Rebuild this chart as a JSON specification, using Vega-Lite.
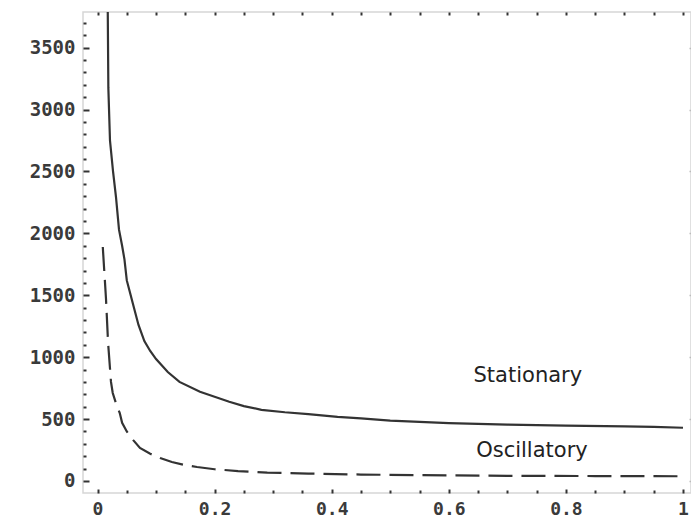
{
  "$schema": "https://vega.github.io/schema/vega-lite/v6.json",
  "width": 608,
  "height": 481,
  "autosize": {"type": "none"},
  "padding": {"left": 83, "top": 12, "right": 0, "bottom": 27},
  "background": "white",
  "config": {
    "view": {"stroke": "#d6d6d6", "strokeWidth": 1.5},
    "axis": {
      "domain": false,
      "grid": false,
      "labelFont": "DejaVu Sans Mono",
      "labelFontSize": 19,
      "labelFontWeight": "bold",
      "labelColor": "#3a3a3a",
      "tickColor": "#333333",
      "tickWidth": 2,
      "labelOverlap": false,
      "labelFlush": false
    }
  },
  "datasets": {
    "curves": [
      {"x": 0.0165, "y": 4100, "series": "Stationary"},
      {"x": 0.0175, "y": 3790, "series": "Stationary"},
      {"x": 0.0185, "y": 3175, "series": "Stationary"},
      {"x": 0.0213, "y": 2750, "series": "Stationary"},
      {"x": 0.0265, "y": 2500, "series": "Stationary"},
      {"x": 0.0316, "y": 2290, "series": "Stationary"},
      {"x": 0.0367, "y": 2030, "series": "Stationary"},
      {"x": 0.042, "y": 1900, "series": "Stationary"},
      {"x": 0.046, "y": 1790, "series": "Stationary"},
      {"x": 0.050, "y": 1620, "series": "Stationary"},
      {"x": 0.055, "y": 1530, "series": "Stationary"},
      {"x": 0.060, "y": 1440, "series": "Stationary"},
      {"x": 0.070, "y": 1260, "series": "Stationary"},
      {"x": 0.080, "y": 1130, "series": "Stationary"},
      {"x": 0.090, "y": 1050, "series": "Stationary"},
      {"x": 0.100, "y": 985, "series": "Stationary"},
      {"x": 0.120, "y": 880, "series": "Stationary"},
      {"x": 0.140, "y": 800, "series": "Stationary"},
      {"x": 0.175, "y": 720, "series": "Stationary"},
      {"x": 0.200, "y": 680, "series": "Stationary"},
      {"x": 0.225, "y": 640, "series": "Stationary"},
      {"x": 0.250, "y": 605, "series": "Stationary"},
      {"x": 0.280, "y": 575, "series": "Stationary"},
      {"x": 0.320, "y": 555, "series": "Stationary"},
      {"x": 0.360, "y": 540, "series": "Stationary"},
      {"x": 0.410, "y": 518, "series": "Stationary"},
      {"x": 0.450, "y": 505, "series": "Stationary"},
      {"x": 0.500, "y": 488, "series": "Stationary"},
      {"x": 0.550, "y": 478, "series": "Stationary"},
      {"x": 0.600, "y": 468, "series": "Stationary"},
      {"x": 0.700, "y": 456, "series": "Stationary"},
      {"x": 0.800, "y": 447, "series": "Stationary"},
      {"x": 0.900, "y": 441, "series": "Stationary"},
      {"x": 0.950, "y": 437, "series": "Stationary"},
      {"x": 1.000, "y": 430, "series": "Stationary"},
      {"x": 0.009, "y": 1890, "series": "Oscillatory"},
      {"x": 0.0145, "y": 1470, "series": "Oscillatory"},
      {"x": 0.018, "y": 1120, "series": "Oscillatory"},
      {"x": 0.023, "y": 800, "series": "Oscillatory"},
      {"x": 0.026, "y": 711, "series": "Oscillatory"},
      {"x": 0.032, "y": 620, "series": "Oscillatory"},
      {"x": 0.038, "y": 549, "series": "Oscillatory"},
      {"x": 0.042, "y": 470, "series": "Oscillatory"},
      {"x": 0.050, "y": 400, "series": "Oscillatory"},
      {"x": 0.061, "y": 330, "series": "Oscillatory"},
      {"x": 0.0725, "y": 267, "series": "Oscillatory"},
      {"x": 0.090, "y": 220, "series": "Oscillatory"},
      {"x": 0.107, "y": 186, "series": "Oscillatory"},
      {"x": 0.127, "y": 153, "series": "Oscillatory"},
      {"x": 0.150, "y": 128, "series": "Oscillatory"},
      {"x": 0.170, "y": 113, "series": "Oscillatory"},
      {"x": 0.200, "y": 95, "series": "Oscillatory"},
      {"x": 0.240, "y": 80, "series": "Oscillatory"},
      {"x": 0.290, "y": 68, "series": "Oscillatory"},
      {"x": 0.360, "y": 60, "series": "Oscillatory"},
      {"x": 0.450, "y": 52, "series": "Oscillatory"},
      {"x": 0.550, "y": 47, "series": "Oscillatory"},
      {"x": 0.700, "y": 42, "series": "Oscillatory"},
      {"x": 0.850, "y": 40, "series": "Oscillatory"},
      {"x": 1.000, "y": 38, "series": "Oscillatory"}
    ],
    "labels": [
      {"x": 0.735, "y": 850, "label": "Stationary"},
      {"x": 0.742, "y": 242, "label": "Oscillatory"}
    ]
  },
  "layer": [
    {
      "data": {"name": "curves"},
      "transform": [{"filter": "datum.series === 'Stationary'"}],
      "mark": {"type": "line", "clip": true, "color": "#333333", "strokeWidth": 2.2},
      "encoding": {
        "x": {
          "field": "x", "type": "quantitative",
          "scale": {"domain": [-0.0248, 1.0137], "nice": false, "zero": false},
          "axis": {
            "orient": "bottom", "title": null,
            "values": [0, 0.05, 0.1, 0.15, 0.2, 0.25, 0.3, 0.35, 0.4, 0.45, 0.5, 0.55, 0.6, 0.65, 0.7, 0.75, 0.8, 0.85, 0.9, 0.95, 1],
            "labelExpr": "abs(datum.value * 5 - round(datum.value * 5)) < 0.001 ? format(datum.value, '.1~f') : ''",
            "tickSize": {"condition": {"test": "abs(datum.value * 5 - round(datum.value * 5)) < 0.001", "value": -4}, "value": -3},
            "labelFontSize": 18,
            "labelPadding": 11
          }
        },
        "y": {
          "field": "y", "type": "quantitative",
          "scale": {"domain": [-97, 3788], "nice": false, "zero": false},
          "axis": {
            "orient": "left", "title": null,
            "values": [0, 100, 200, 300, 400, 500, 600, 700, 800, 900, 1000, 1100, 1200, 1300, 1400, 1500, 1600, 1700, 1800, 1900, 2000, 2100, 2200, 2300, 2400, 2500, 2600, 2700, 2800, 2900, 3000, 3100, 3200, 3300, 3400, 3500, 3600, 3700],
            "labelExpr": "datum.value % 500 === 0 ? format(datum.value, 'd') : ''",
            "tickSize": {"condition": {"test": "datum.value % 500 === 0", "value": -6}, "value": -3},
            "labelPadding": 14
          }
        }
      }
    },
    {
      "data": {"name": "curves"},
      "transform": [{"filter": "datum.series === 'Oscillatory'"}],
      "mark": {"type": "line", "clip": true, "color": "#333333", "strokeWidth": 2.2, "strokeDash": [24, 9]},
      "encoding": {
        "x": {
          "field": "x", "type": "quantitative",
          "axis": {
            "orient": "top", "title": null, "labels": false,
            "values": [0, 0.05, 0.1, 0.15, 0.2, 0.25, 0.3, 0.35, 0.4, 0.45, 0.5, 0.55, 0.6, 0.65, 0.7, 0.75, 0.8, 0.85, 0.9, 0.95, 1],
            "tickSize": -3
          }
        },
        "y": {
          "field": "y", "type": "quantitative",
          "axis": {
            "orient": "right", "title": null, "labels": false,
            "values": [0, 500, 1000, 1500, 2000, 2500, 3000, 3500],
            "tickSize": -2,
            "tickColor": "#bbbbbb",
            "tickWidth": 1.5
          }
        }
      }
    },
    {
      "data": {"name": "labels"},
      "mark": {"type": "text", "font": "DejaVu Sans", "fontSize": 21, "color": "#222222"},
      "encoding": {
        "x": {"field": "x", "type": "quantitative", "axis": null},
        "y": {"field": "y", "type": "quantitative", "axis": null},
        "text": {"field": "label"}
      }
    }
  ],
  "resolve": {"axis": {"x": "independent", "y": "independent"}}
}
